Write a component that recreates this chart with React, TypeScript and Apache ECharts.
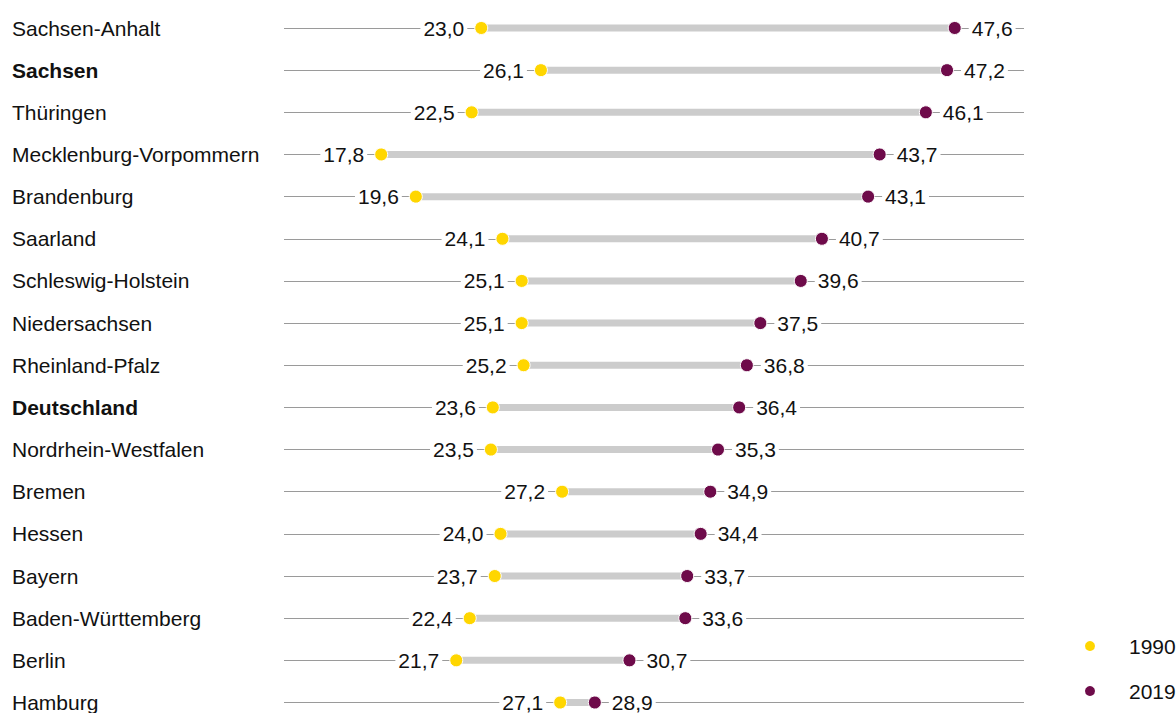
import React, { useEffect, useRef } from "react";
import * as echarts from "echarts";

const regions = [
  "Sachsen-Anhalt",
  "Sachsen",
  "Thüringen",
  "Mecklenburg-Vorpommern",
  "Brandenburg",
  "Saarland",
  "Schleswig-Holstein",
  "Niedersachsen",
  "Rheinland-Pfalz",
  "Deutschland",
  "Nordrhein-Westfalen",
  "Bremen",
  "Hessen",
  "Bayern",
  "Baden-Württemberg",
  "Berlin",
  "Hamburg",
];
const values1990 = [23.0, 26.1, 22.5, 17.8, 19.6, 24.1, 25.1, 25.1, 25.2, 23.6, 23.5, 27.2, 24.0, 23.7, 22.4, 21.7, 27.1];
const values2019 = [47.6, 47.2, 46.1, 43.7, 43.1, 40.7, 39.6, 37.5, 36.8, 36.4, 35.3, 34.9, 34.4, 33.7, 33.6, 30.7, 28.9];
const boldRegions = ["Sachsen", "Deutschland"];
const seriesNames = ["1990", "2019"];

const FONT = "'Liberation Sans', Arial, sans-serif";
const YELLOW = "#FFD600";
const PURPLE = "#6E0B4A";
const TEXT = "#111111";

const fmt = (v: number) => v.toFixed(1).replace(".", ",");

export default function App() {
  const ref = useRef<HTMLDivElement>(null);
  useEffect(() => {
    if (!ref.current) return;
    const chart = echarts.init(ref.current, undefined, { renderer: "svg" });
    const labelBase = {
      show: true,
      fontSize: 21,
      fontFamily: FONT,
      color: TEXT,
      backgroundColor: "#ffffff",
      padding: [1, 3, 1, 3],
      distance: 7,
      formatter: (p: any) => fmt(p.value[0]),
    };
    chart.setOption({
      animation: false,
      textStyle: { fontFamily: FONT },
      grid: { left: 284, right: 152, top: 28, bottom: 9, containLabel: false },
      xAxis: {
        type: "value",
        min: 12.75,
        max: 51.2,
        show: false,
      },
      yAxis: {
        type: "category",
        data: regions,
        inverse: true,
        boundaryGap: false,
        axisLine: { show: false },
        axisTick: { show: false },
        splitLine: { show: true, lineStyle: { color: "#9a9a9a", width: 1 } },
        axisLabel: {
          align: "left",
          margin: 272,
          fontSize: 21,
          color: TEXT,
          fontFamily: FONT,
          formatter: (v: string) => (boldRegions.includes(v) ? `{b|${v}}` : `{n|${v}}`),
          rich: {
            b: { fontWeight: "bold", fontSize: 21, color: TEXT, fontFamily: FONT },
            n: { fontSize: 21, color: TEXT, fontFamily: FONT },
          },
        },
      },
      legend: {
        data: seriesNames,
        orient: "vertical",
        left: 1078,
        top: 630,
        icon: "circle",
        itemWidth: 12,
        itemHeight: 12,
        itemGap: 23,
        textStyle: {
          fontSize: 21,
          lineHeight: 22,
          color: TEXT,
          fontFamily: FONT,
          padding: [0, 0, 0, 28],
        },
      },
      series: [
        {
          type: "custom",
          name: "range",
          silent: true,
          z: 1,
          data: regions.map((_, i) => [i, values1990[i], values2019[i]]),
          encode: { x: [1, 2], y: 0 },
          renderItem: (_params: any, api: any) => {
            const p1 = api.coord([api.value(1), api.value(0)]);
            const p2 = api.coord([api.value(2), api.value(0)]);
            return {
              type: "rect",
              shape: { x: p1[0], y: p1[1] - 3.5, width: p2[0] - p1[0], height: 7 },
              style: { fill: "#cccccc" },
            };
          },
        },
        {
          type: "scatter",
          name: seriesNames[0],
          z: 3,
          symbol: "circle",
          symbolSize: 13,
          itemStyle: { color: YELLOW, borderColor: "#fff", borderWidth: 1, opacity: 1 },
          data: regions.map((_, i) => [values1990[i], i]),
          label: { ...labelBase, position: "left" },
        },
        {
          type: "scatter",
          name: seriesNames[1],
          z: 3,
          symbol: "circle",
          symbolSize: 13,
          itemStyle: { color: PURPLE, borderColor: "#fff", borderWidth: 1, opacity: 1 },
          data: regions.map((_, i) => [values2019[i], i]),
          label: { ...labelBase, position: "right" },
        },
      ],
    });
    return () => chart.dispose();
  }, []);
  return (
    <div
      ref={ref}
      style={{ position: "absolute", left: 0, top: 0, width: 1176, height: 713, background: "#fff" }}
    />
  );
}
